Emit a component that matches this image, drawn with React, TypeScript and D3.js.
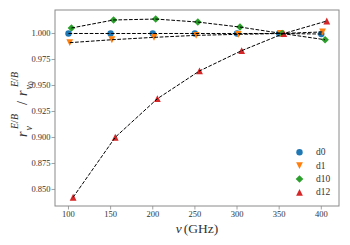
import React from "react";
import * as d3 from "d3";

const xTicks = [100, 150, 200, 250, 300, 350, 400];
const yTicks = [0.85, 0.875, 0.9, 0.925, 0.95, 0.975, 1.0];

const d0X = [100, 150, 200, 250, 300, 350, 400];
const d0Y = [1.0, 1.0, 1.0, 1.0, 1.0, 1.0, 0.9995];
const d1X = [101.5, 151.5, 201.5, 251.5, 301.5, 351.5, 401.5];
const d1Y = [0.9912, 0.994, 0.9963, 0.9982, 0.9992, 1.0, 1.0015];
const d10X = [103.5, 153.5, 203.5, 253.5, 303.5, 353.5, 404.5];
const d10Y = [1.0053, 1.013, 1.0139, 1.011, 1.0062, 1.0, 0.994];
const d12X = [105.5, 155.5, 205.5, 255.5, 305.5, 355.5, 406.5];
const d12Y = [0.8425, 0.9002, 0.9373, 0.964, 0.9835, 1.0, 1.012];

const seriesNames = ["d0", "d1", "d10", "d12"];
const seriesColors = ["#1f77b4", "#ff7f0e", "#2ca02c", "#d62728"];
const seriesShapes = ["circle", "tridown", "diamond", "triup"];

const W = 350, H = 245;
const left = 55, right = 339, top = 10, bottom = 206;
const FONT = "'Liberation Serif'";

function markerPath(shape: string, cx: number, cy: number): string {
  const p = d3.path();
  if (shape === "circle") {
    p.arc(cx, cy, 3.2, 0, Math.PI * 2);
  } else if (shape === "tridown") {
    p.moveTo(cx - 3.4, cy - 3.4);
    p.lineTo(cx + 3.4, cy - 3.4);
    p.lineTo(cx, cy + 3.4);
    p.closePath();
  } else if (shape === "triup") {
    p.moveTo(cx - 3.4, cy + 3.4);
    p.lineTo(cx + 3.4, cy + 3.4);
    p.lineTo(cx, cy - 3.4);
    p.closePath();
  } else {
    p.moveTo(cx, cy - 3.8);
    p.lineTo(cx + 3.8, cy);
    p.lineTo(cx, cy + 3.8);
    p.lineTo(cx - 3.8, cy);
    p.closePath();
  }
  return p.toString();
}

const T = (props: any) => <text {...props} style={{ fontFamily: FONT }} />;

export default function App() {
  const x = d3.scaleLinear().domain([84, 421]).range([left, right]);
  const y = d3.scaleLinear().domain([0.8341, 1.0226]).range([bottom, top]);
  const xs = [d0X, d1X, d10X, d12X];
  const ys = [d0Y, d1Y, d10Y, d12Y];
  const line = d3
    .line<[number, number]>()
    .x((d) => x(d[0]))
    .y((d) => y(d[1]));
  const grey = "#8a8a8a";
  const tc = "#333";
  return (
    <svg
      width={W}
      height={H}
      style={{ position: "absolute", left: 0, top: 0, background: "#fff" }}
    >
      {/* markers */}
      {xs.map((sx, si) =>
        sx.map((xv, i) => (
          <path
            key={`m${si}-${i}`}
            d={markerPath(seriesShapes[si], x(xv), y(ys[si][i]))}
            fill={seriesColors[si]}
          />
        ))
      )}
      {/* dashed lines */}
      {xs.map((sx, si) => (
        <path
          key={`l${si}`}
          d={line(sx.map((xv, i) => [xv, ys[si][i]] as [number, number])) || ""}
          fill="none"
          stroke="#000"
          strokeWidth={1}
          strokeDasharray="3.7,1.6"
        />
      ))}
      {/* frame */}
      <rect x={left} y={top} width={right - left} height={bottom - top} fill="none" stroke={grey} strokeWidth={1} />
      {/* x ticks */}
      {xTicks.map((t) => (
        <g key={`xt${t}`}>
          <line x1={x(t)} x2={x(t)} y1={bottom} y2={bottom + 3.5} stroke={grey} strokeWidth={0.8} />
          <T x={x(t)} y={216.5} textAnchor="middle" fontSize={8.5} fill={tc}>
            {t}
          </T>
        </g>
      ))}
      {/* y ticks */}
      {yTicks.map((t) => (
        <g key={`yt${t}`}>
          <line x1={left - 3.5} x2={left} y1={y(t)} y2={y(t)} stroke={grey} strokeWidth={0.8} />
          <T x={50.5} y={y(t) + 3} textAnchor="end" fontSize={8.5} fill={tc}>
            {t.toFixed(3)}
          </T>
        </g>
      ))}
      {/* x label */}
      <T x={197} y={233} textAnchor="middle" fontSize={13.5} fill={tc}>
        <tspan fontStyle="italic">ν</tspan>
        <tspan dx={2}>(GHz)</tspan>
      </T>
      {/* y label */}
      <g transform="translate(27,137) rotate(-90)" fill={tc}>
        <T x={0} y={0} fontSize={14} fontStyle="italic">r</T>
        <T x={6.5} y={4.5} fontSize={10} fontStyle="italic">ν</T>
        <T x={8} y={-9} fontSize={10}>
          <tspan fontStyle="italic">E</tspan>/<tspan fontStyle="italic">B</tspan>
        </T>
        <T x={32} y={0} fontSize={14}>/</T>
        <T x={41} y={0} fontSize={14} fontStyle="italic">r</T>
        <T x={47.5} y={4.5} fontSize={10}>
          <tspan fontStyle="italic">ν</tspan>
          <tspan fontSize={7.5} dy={2}>0</tspan>
        </T>
        <T x={50} y={-9} fontSize={10}>
          <tspan fontStyle="italic">E</tspan>/<tspan fontStyle="italic">B</tspan>
        </T>
      </g>
      {/* legend */}
      {seriesNames.map((n, i) => {
        const ly = 152.3 + i * 13.35;
        return (
          <g key={`lg${n}`}>
            <path d={markerPath(seriesShapes[i], 299.5, ly)} fill={seriesColors[i]} />
            <T x={316} y={ly + 3} fontSize={9.5} fill={tc}>
              {n}
            </T>
          </g>
        );
      })}
    </svg>
  );
}
